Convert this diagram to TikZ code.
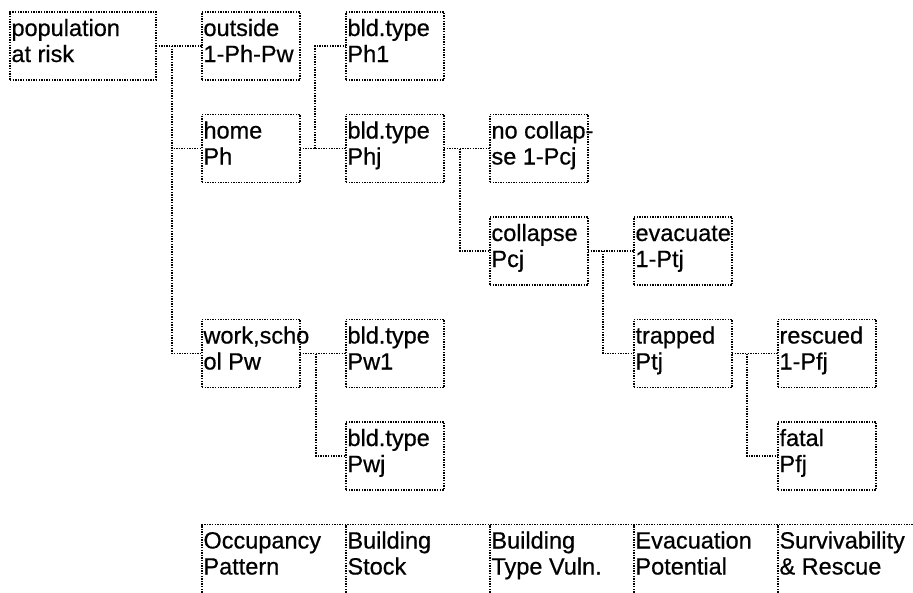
\documentclass[tikz,border=0pt]{standalone}
\usepackage{fontspec}
\setmainfont{Liberation Sans}[FakeBold=0.6]
\usetikzlibrary{positioning}

% two lines of text, set at the top of a box
\newcommand\twoline[3][95pt]{\parbox[c][64pt][t]{#1}{\rule{0pt}{22pt}\mbox{#2}\\\mbox{#3}}}

\begin{document}
\begin{tikzpicture}[x=1pt, y=1pt,
    font=\fontsize{23.5}{26}\selectfont,
    node distance=34.5pt and 46pt,
    cell/.style = {draw, line width=1.4pt, dash pattern=on 1.4pt off 1.2pt, inner xsep=1.5pt, inner ysep=2pt, outer sep=0pt},
    head/.style = {inner xsep=1.5pt, inner ysep=2pt, outer sep=0pt},
    link/.style = {line width=1.4pt, dash pattern=on 1.4pt off 1.2pt}]
\useasboundingbox (0,0) rectangle (913,-592);
\node[cell] (pop) at (83,-46) {\twoline[143pt]{population}{at risk}};
\node[cell] (outside) [right=of pop] {\twoline{outside}{1-Ph-Pw}};
\node[cell] (home) [below=of outside] {\twoline{home}{Ph}};
\node[cell] (work) [below=137pt of home] {\twoline{work,scho}{ol Pw}};
\node[cell] (ph1) [right=of outside] {\twoline{bld.type}{Ph1}};
\node[cell] (phj) [right=of home] {\twoline{bld.type}{Phj}};
\node[cell] (pw1) [right=of work] {\twoline{bld.type}{Pw1}};
\node[cell] (pwj) [below=of pw1] {\twoline{bld.type}{Pwj}};
\node[cell] (nocol) [right=of phj] {\twoline{no collap-}{se 1-Pcj}};
\node[cell] (coll) [below=of nocol] {\twoline{collapse}{Pcj}};
\node[cell] (evac) [right=of coll] {\twoline{evacuate}{1-Ptj}};
\node[cell] (trap) [below=of evac] {\twoline{trapped}{Ptj}};
\node[cell] (resc) [right=of trap] {\twoline{rescued}{1-Pfj}};
\node[cell] (fatal) [below=of resc] {\twoline{fatal}{Pfj}};
% stage headings along the bottom
\node[head, below=of pwj.south west, anchor=north west] (hstock) {\twoline[141pt]{Building}{Stock}};
\node[head, left=0pt of hstock] (hocc) {\twoline[141pt]{Occupancy}{Pattern}};
\node[head, right=0pt of hstock] (hvuln) {\twoline[141pt]{Building}{Type Vuln.}};
\node[head, right=0pt of hvuln] (hevac) {\twoline[141pt]{Evacuation}{Potential}};
\node[head, right=0pt of hevac] (hsurv) {\twoline[141pt]{Survivability}{\& Rescue}};
\draw[link] (hocc.south west) |- (hsurv.north east);
\draw[link] (hstock.south west) -- (hstock.north west);
\draw[link] (hvuln.south west) -- (hvuln.north west);
\draw[link] (hevac.south west) -- (hevac.north west);
\draw[link] (hsurv.south west) -- (hsurv.north west);
% tree branches
\draw[link] (pop.east) -- (outside.west);
\draw[link] ([xshift=16pt]pop.east) |- (home.west);
\draw[link] ([xshift=16pt]pop.east) |- (work.west);
\draw[link] (home.east) -- (phj.west);
\draw[link] ([xshift=15pt]home.east) |- (ph1.west);
\draw[link] (work.east) -- (pw1.west);
\draw[link] ([xshift=16pt]work.east) |- (pwj.west);
\draw[link] (phj.east) -- (nocol.west);
\draw[link] ([xshift=16pt]phj.east) |- (coll.west);
\draw[link] (coll.east) -- (evac.west);
\draw[link] ([xshift=15pt]coll.east) |- (trap.west);
\draw[link] (trap.east) -- (resc.west);
\draw[link] ([xshift=15pt]trap.east) |- (fatal.west);
\end{tikzpicture}
\end{document}
